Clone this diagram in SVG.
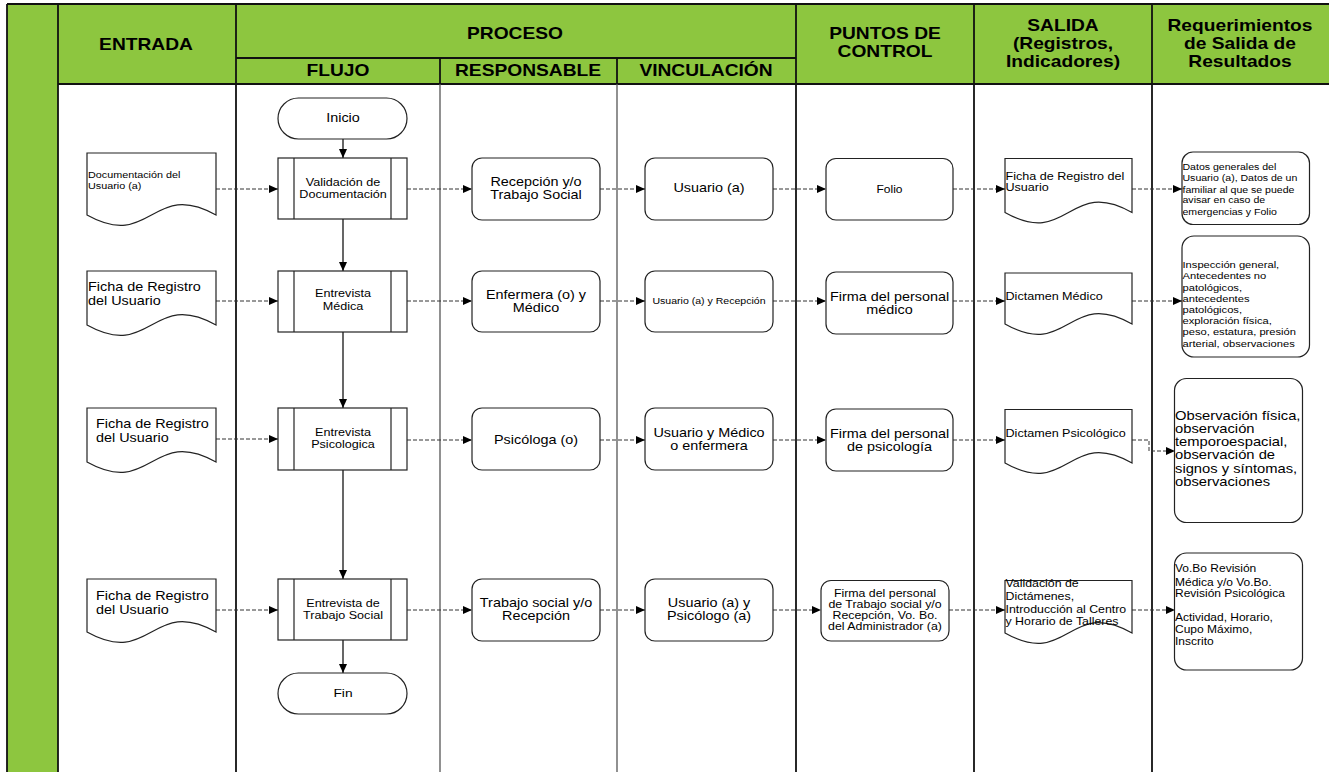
<svg xmlns="http://www.w3.org/2000/svg" width="1329" height="772" viewBox="0 0 1329 772">
  <style>
    text{font-family:"Liberation Sans",Arial,Helvetica,sans-serif;fill:#000}
    .c{text-anchor:middle}
    .hd{font-weight:bold;font-size:16px;text-anchor:middle}
    .f88{font-size:8.8px}
    .f9{font-size:9px}
    .f93{font-size:9.3px}
    .f10{font-size:10px}
    .f103{font-size:10.3px}
    .f105{font-size:10.5px}
    .f115{font-size:11.5px}
    .f12{font-size:12px}
    .f123{font-size:12.3px}
    .shape{fill:#fff;stroke:#222;stroke-width:1.2}
    .inner{fill:none;stroke:#222;stroke-width:1.2}
    .flow{fill:none;stroke:#000;stroke-width:1.2}
    .dash{fill:none;stroke:#333;stroke-width:1;stroke-dasharray:4 2}
    .lane{stroke:#111;stroke-width:1.8}
    .sub{stroke:#555;stroke-width:1.3}
  </style>
  <defs>
    <marker id="ah" markerWidth="9" markerHeight="8" refX="9" refY="4" orient="auto" markerUnits="userSpaceOnUse">
      <path d="M0,0 L9,4 L0,8 z" fill="#000"/>
    </marker>
  </defs>

  <rect width="1329" height="772" fill="#fff"/>

  <!-- swimlane frame and header band -->
  <g id="lanes">
    <rect x="7" y="4" width="1322" height="80" fill="#8DC63F"/>
    <rect x="7" y="4" width="51" height="768" fill="#8DC63F"/>
    <line class="lane" x1="7" y1="4" x2="1329" y2="4"/>
    <line class="lane" x1="7" y1="4" x2="7" y2="772"/>
    <line class="lane" x1="58" y1="4" x2="58" y2="772"/>
    <line class="lane" x1="58" y1="84" x2="1329" y2="84"/>
    <line class="lane" x1="236" y1="58" x2="796" y2="58"/>
    <line class="lane" x1="236" y1="4" x2="236" y2="772"/>
    <line class="lane" x1="440" y1="58" x2="440" y2="84"/>
    <line class="lane" x1="617" y1="58" x2="617" y2="84"/>
    <line class="sub" x1="440" y1="84" x2="440" y2="772"/>
    <line class="sub" x1="617" y1="84" x2="617" y2="772"/>
    <line class="lane" x1="796" y1="4" x2="796" y2="772"/>
    <line class="lane" x1="974" y1="4" x2="974" y2="772"/>
    <line class="lane" x1="1152" y1="4" x2="1152" y2="772"/>

    <text class="hd" transform="translate(146 49.5) scale(1.2 1)">ENTRADA</text>
    <text class="hd" transform="translate(515 39) scale(1.2 1)">PROCESO</text>
    <text class="hd" transform="translate(338 76) scale(1.2 1)">FLUJO</text>
    <text class="hd" transform="translate(528 76) scale(1.2 1)">RESPONSABLE</text>
    <text class="hd" transform="translate(706 76) scale(1.2 1)">VINCULACIÓN</text>
    <text class="hd" transform="translate(885 39) scale(1.2 1)">PUNTOS DE</text>
    <text class="hd" transform="translate(885 57) scale(1.2 1)">CONTROL</text>
    <text class="hd" transform="translate(1063 31) scale(1.2 1)">SALIDA</text>
    <text class="hd" transform="translate(1063 49) scale(1.2 1)">(Registros,</text>
    <text class="hd" transform="translate(1063 67) scale(1.2 1)">Indicadores)</text>
    <text class="hd" transform="translate(1240 31) scale(1.2 1)">Requerimientos</text>
    <text class="hd" transform="translate(1240 49) scale(1.2 1)">de Salida de</text>
    <text class="hd" transform="translate(1240 67) scale(1.2 1)">Resultados</text>
  </g>

  <!-- connectors -->
  <g id="connectors">
    <!-- main flow -->
    <line class="flow" x1="343" y1="139" x2="343" y2="158" marker-end="url(#ah)"/>
    <line class="flow" x1="343" y1="219" x2="343" y2="271" marker-end="url(#ah)"/>
    <line class="flow" x1="343" y1="332" x2="343" y2="408" marker-end="url(#ah)"/>
    <line class="flow" x1="343" y1="470" x2="343" y2="579" marker-end="url(#ah)"/>
    <line class="flow" x1="343" y1="640" x2="343" y2="673" marker-end="url(#ah)"/>
    <!-- row 1 -->
    <line class="dash" x1="216" y1="189" x2="278" y2="189" marker-end="url(#ah)"/>
    <line class="dash" x1="407" y1="189" x2="472" y2="189" marker-end="url(#ah)"/>
    <line class="dash" x1="600" y1="189" x2="645" y2="189" marker-end="url(#ah)"/>
    <line class="dash" x1="773" y1="189" x2="826" y2="189" marker-end="url(#ah)"/>
    <line class="dash" x1="953" y1="189" x2="1005" y2="189" marker-end="url(#ah)"/>
    <line class="dash" x1="1132" y1="189" x2="1182" y2="189" marker-end="url(#ah)"/>
    <!-- row 2 -->
    <line class="dash" x1="216" y1="301" x2="278" y2="301" marker-end="url(#ah)"/>
    <line class="dash" x1="407" y1="301" x2="472" y2="301" marker-end="url(#ah)"/>
    <line class="dash" x1="600" y1="301" x2="645" y2="301" marker-end="url(#ah)"/>
    <line class="dash" x1="773" y1="301" x2="826" y2="301" marker-end="url(#ah)"/>
    <line class="dash" x1="953" y1="301" x2="1005" y2="301" marker-end="url(#ah)"/>
    <line class="dash" x1="1132" y1="301" x2="1182" y2="301" marker-end="url(#ah)"/>
    <!-- row 3 -->
    <line class="dash" x1="216" y1="439" x2="278" y2="439" marker-end="url(#ah)"/>
    <line class="dash" x1="407" y1="440" x2="472" y2="440" marker-end="url(#ah)"/>
    <line class="dash" x1="600" y1="440" x2="645" y2="440" marker-end="url(#ah)"/>
    <line class="dash" x1="773" y1="440" x2="826" y2="440" marker-end="url(#ah)"/>
    <line class="dash" x1="953" y1="440" x2="1005" y2="440" marker-end="url(#ah)"/>
    <polyline class="dash" points="1132,440 1149,440 1149,451 1175,451" marker-end="url(#ah)"/>
    <!-- row 4 -->
    <line class="dash" x1="216" y1="610" x2="278" y2="610" marker-end="url(#ah)"/>
    <line class="dash" x1="407" y1="610" x2="472" y2="610" marker-end="url(#ah)"/>
    <line class="dash" x1="600" y1="610" x2="645" y2="610" marker-end="url(#ah)"/>
    <line class="dash" x1="773" y1="610" x2="821" y2="610" marker-end="url(#ah)"/>
    <line class="dash" x1="949" y1="610" x2="1005" y2="610" marker-end="url(#ah)"/>
    <line class="dash" x1="1132" y1="610" x2="1175" y2="610" marker-end="url(#ah)"/>
  </g>

  <!-- FLUJO -->
  <g id="n-inicio">
    <rect class="shape" x="278" y="98" width="129" height="41" rx="20.5"/>
    <text class="f12 c" transform="translate(343 122.3) scale(1.2 1)">Inicio</text>
  </g>
  <g id="n-validacion">
    <rect class="shape" x="278" y="158" width="129" height="61"/>
    <line class="inner" x1="294" y1="158" x2="294" y2="219"/>
    <line class="inner" x1="391" y1="158" x2="391" y2="219"/>
    <text class="f105 c" transform="translate(343 185.7) scale(1.2 1)">Validación de</text>
    <text class="f105 c" transform="translate(343 198.3) scale(1.2 1)">Documentación</text>
  </g>
  <g id="n-medica">
    <rect class="shape" x="278" y="271" width="129" height="61"/>
    <line class="inner" x1="294" y1="271" x2="294" y2="332"/>
    <line class="inner" x1="391" y1="271" x2="391" y2="332"/>
    <text class="f105 c" transform="translate(343 297.3) scale(1.2 1)">Entrevista</text>
    <text class="f105 c" transform="translate(343 310) scale(1.2 1)">Médica</text>
  </g>
  <g id="n-psicologica">
    <rect class="shape" x="278" y="408" width="129" height="62"/>
    <line class="inner" x1="294" y1="408" x2="294" y2="470"/>
    <line class="inner" x1="391" y1="408" x2="391" y2="470"/>
    <text class="f105 c" transform="translate(343 436) scale(1.2 1)">Entrevista</text>
    <text class="f105 c" transform="translate(343 448) scale(1.2 1)">Psicologica</text>
  </g>
  <g id="n-trabajo-social">
    <rect class="shape" x="278" y="579" width="129" height="61"/>
    <line class="inner" x1="294" y1="579" x2="294" y2="640"/>
    <line class="inner" x1="391" y1="579" x2="391" y2="640"/>
    <text class="f105 c" transform="translate(343 607.3) scale(1.2 1)">Entrevista de</text>
    <text class="f105 c" transform="translate(343 619.3) scale(1.2 1)">Trabajo Social</text>
  </g>
  <g id="n-fin">
    <rect class="shape" x="278" y="673" width="129" height="41" rx="20.5"/>
    <text class="f115 c" transform="translate(343 696.7) scale(1.2 1)">Fin</text>
  </g>

  <!-- ENTRADA -->
  <g id="n-in-documentacion">
    <path class="shape" d="M87,153 H216 V215 C151.5,179 151.5,251 87,215 Z"/>
    <text class="f9" transform="translate(88 177.7) scale(1.2 1)">Documentación del</text>
    <text class="f9" transform="translate(88 188.7) scale(1.2 1)">Usuario (a)</text>
  </g>
  <g id="n-in-ficha-1">
    <path class="shape" d="M87,271 H216 V325 C151.5,289 151.5,361 87,325 Z"/>
    <text class="f12" transform="translate(88 290.7) scale(1.2 1)">Ficha de Registro</text>
    <text class="f12" transform="translate(88 305) scale(1.2 1)">del Usuario</text>
  </g>
  <g id="n-in-ficha-2">
    <path class="shape" d="M87,408 H216 V462 C151.5,426 151.5,498 87,462 Z"/>
    <text class="f12" transform="translate(96 428.3) scale(1.2 1)">Ficha de Registro</text>
    <text class="f12" transform="translate(96 441.7) scale(1.2 1)">del Usuario</text>
  </g>
  <g id="n-in-ficha-3">
    <path class="shape" d="M87,579 H216 V632 C151.5,596 151.5,668 87,632 Z"/>
    <text class="f12" transform="translate(96 600) scale(1.2 1)">Ficha de Registro</text>
    <text class="f12" transform="translate(96 614) scale(1.2 1)">del Usuario</text>
  </g>

  <!-- RESPONSABLE -->
  <g id="n-resp-1">
    <rect class="shape" x="472" y="158" width="128" height="62" rx="10"/>
    <text class="f12 c" transform="translate(536 186) scale(1.2 1)">Recepción y/o</text>
    <text class="f12 c" transform="translate(536 199) scale(1.2 1)">Trabajo Social</text>
  </g>
  <g id="n-resp-2">
    <rect class="shape" x="472" y="271" width="128" height="61" rx="10"/>
    <text class="f12 c" transform="translate(536 298.5) scale(1.2 1)">Enfermera (o) y</text>
    <text class="f12 c" transform="translate(536 312) scale(1.2 1)">Médico</text>
  </g>
  <g id="n-resp-3">
    <rect class="shape" x="472" y="408" width="128" height="62" rx="10"/>
    <text class="f12 c" transform="translate(536 444) scale(1.2 1)">Psicóloga (o)</text>
  </g>
  <g id="n-resp-4">
    <rect class="shape" x="472" y="579" width="128" height="62" rx="10"/>
    <text class="f12 c" transform="translate(536 607) scale(1.2 1)">Trabajo social y/o</text>
    <text class="f12 c" transform="translate(536 620) scale(1.2 1)">Recepción</text>
  </g>

  <!-- VINCULACIÓN -->
  <g id="n-vinc-1">
    <rect class="shape" x="645" y="158" width="128" height="62" rx="10"/>
    <text class="f12 c" transform="translate(709 192) scale(1.2 1)">Usuario (a)</text>
  </g>
  <g id="n-vinc-2">
    <rect class="shape" x="645" y="271" width="128" height="61" rx="10"/>
    <text class="f88 c" transform="translate(709 304) scale(1.2 1)">Usuario (a) y Recepción</text>
  </g>
  <g id="n-vinc-3">
    <rect class="shape" x="645" y="408" width="128" height="62" rx="10"/>
    <text class="f12 c" transform="translate(709 437) scale(1.2 1)">Usuario y Médico</text>
    <text class="f12 c" transform="translate(709 450) scale(1.2 1)">o enfermera</text>
  </g>
  <g id="n-vinc-4">
    <rect class="shape" x="645" y="579" width="128" height="62" rx="10"/>
    <text class="f12 c" transform="translate(709 607) scale(1.2 1)">Usuario (a) y</text>
    <text class="f12 c" transform="translate(709 620) scale(1.2 1)">Psicólogo (a)</text>
  </g>

  <!-- PUNTOS DE CONTROL -->
  <g id="n-ctrl-1">
    <rect class="shape" x="826" y="158.5" width="127" height="61.5" rx="10"/>
    <text class="f10 c" transform="translate(889.5 192.5) scale(1.2 1)">Folio</text>
  </g>
  <g id="n-ctrl-2">
    <rect class="shape" x="826" y="272" width="127" height="62" rx="10"/>
    <text class="f12 c" transform="translate(889.5 300.5) scale(1.2 1)">Firma del personal</text>
    <text class="f12 c" transform="translate(889.5 313.5) scale(1.2 1)">médico</text>
  </g>
  <g id="n-ctrl-3">
    <rect class="shape" x="826" y="409" width="127" height="62" rx="10"/>
    <text class="f12 c" transform="translate(889.5 437.5) scale(1.2 1)">Firma del personal</text>
    <text class="f12 c" transform="translate(889.5 451) scale(1.2 1)">de psicología</text>
  </g>
  <g id="n-ctrl-4">
    <rect class="shape" x="821" y="580.5" width="128" height="60.5" rx="10"/>
    <text class="f103 c" transform="translate(885 596.7) scale(1.2 1)">Firma del personal</text>
    <text class="f103 c" transform="translate(885 607.7) scale(1.2 1)">de Trabajo social y/o</text>
    <text class="f103 c" transform="translate(885 618.7) scale(1.2 1)">Recepción, Vo. Bo.</text>
    <text class="f103 c" transform="translate(885 629.7) scale(1.2 1)">del Administrador (a)</text>
  </g>

  <!-- SALIDA -->
  <g id="n-out-1">
    <path class="shape" d="M1005,158.5 H1132 V212.5 C1068.5,176.5 1068.5,248.5 1005,212.5 Z"/>
    <text class="f105" transform="translate(1005.5 179.8) scale(1.2 1)">Ficha de Registro del</text>
    <text class="f105" transform="translate(1005.5 191.3) scale(1.2 1)">Usuario</text>
  </g>
  <g id="n-out-2">
    <path class="shape" d="M1005,273 H1132 V324 C1068.5,288 1068.5,360 1005,324 Z"/>
    <text class="f105" transform="translate(1005.5 300.3) scale(1.2 1)">Dictamen Médico</text>
  </g>
  <g id="n-out-3">
    <path class="shape" d="M1005,409.5 H1132 V463 C1068.5,427 1068.5,499 1005,463 Z"/>
    <text class="f105" transform="translate(1005.5 436.8) scale(1.2 1)">Dictamen Psicológico</text>
  </g>
  <g id="n-out-4">
    <path class="shape" d="M1005,580.5 H1132 V633 C1068.5,597 1068.5,669 1005,633 Z"/>
    <text class="f103" transform="translate(1005.5 587.2) scale(1.2 1)">Validación de</text>
    <text class="f103" transform="translate(1005.5 600) scale(1.2 1)">Dictámenes,</text>
    <text class="f103" transform="translate(1005.5 613) scale(1.2 1)">Introducción al Centro</text>
    <text class="f103" transform="translate(1005.5 625) scale(1.2 1)">y Horario de Talleres</text>
  </g>

  <!-- REQUERIMIENTOS DE SALIDA -->
  <g id="n-req-1">
    <rect class="shape" x="1182" y="152" width="127.5" height="72.5" rx="11"/>
    <text class="f88" transform="translate(1182.5 170.4) scale(1.2 1)">Datos generales del</text>
    <text class="f88" transform="translate(1182.5 181.2) scale(1.2 1)">Usuario (a), Datos de un</text>
    <text class="f88" transform="translate(1182.5 193) scale(1.2 1)">familiar al que se puede</text>
    <text class="f88" transform="translate(1182.5 203.4) scale(1.2 1)">avisar en caso de</text>
    <text class="f88" transform="translate(1182.5 214.9) scale(1.2 1)">emergencias y Folio</text>
  </g>
  <g id="n-req-2">
    <rect class="shape" x="1182" y="236" width="127.5" height="121" rx="12"/>
    <text class="f93" transform="translate(1182.5 268.2) scale(1.2 1)">Inspección general,</text>
    <text class="f93" transform="translate(1182.5 279.4) scale(1.2 1)">Antecedentes no</text>
    <text class="f93" transform="translate(1182.5 290.6) scale(1.2 1)">patológicos,</text>
    <text class="f93" transform="translate(1182.5 301.8) scale(1.2 1)">antecedentes</text>
    <text class="f93" transform="translate(1182.5 313) scale(1.2 1)">patológicos,</text>
    <text class="f93" transform="translate(1182.5 324.2) scale(1.2 1)">exploración física,</text>
    <text class="f93" transform="translate(1182.5 335.4) scale(1.2 1)">peso, estatura, presión</text>
    <text class="f93" transform="translate(1182.5 346.6) scale(1.2 1)">arterial, observaciones</text>
  </g>
  <g id="n-req-3">
    <rect class="shape" x="1174.5" y="378.5" width="128" height="144" rx="12"/>
    <text class="f123" transform="translate(1175 420) scale(1.2 1)">Observación física,</text>
    <text class="f123" transform="translate(1175 433.4) scale(1.2 1)">observación</text>
    <text class="f123" transform="translate(1175 446) scale(1.2 1)">temporoespacial,</text>
    <text class="f123" transform="translate(1175 459.4) scale(1.2 1)">observación de</text>
    <text class="f123" transform="translate(1175 472.9) scale(1.2 1)">signos y síntomas,</text>
    <text class="f123" transform="translate(1175 486.4) scale(1.2 1)">observaciones</text>
  </g>
  <g id="n-req-4">
    <rect class="shape" x="1174.5" y="553" width="128" height="117" rx="12"/>
    <text class="f10" transform="translate(1175 572) scale(1.2 1)">Vo.Bo Revisión</text>
    <text class="f10" transform="translate(1175 585.5) scale(1.2 1)">Médica y/o Vo.Bo.</text>
    <text class="f10" transform="translate(1175 596.7) scale(1.2 1)">Revisión Psicológica</text>
    <text class="f10" transform="translate(1175 621) scale(1.2 1)">Actividad, Horario,</text>
    <text class="f10" transform="translate(1175 632.8) scale(1.2 1)">Cupo Máximo,</text>
    <text class="f10" transform="translate(1175 644.6) scale(1.2 1)">Inscrito</text>
  </g>
</svg>
